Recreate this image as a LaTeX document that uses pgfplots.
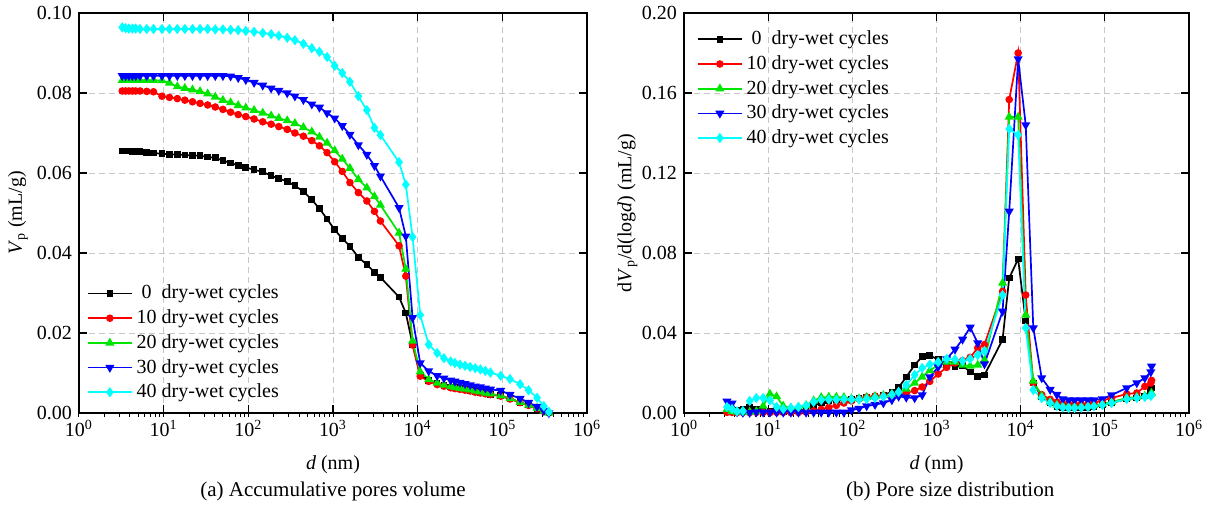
\documentclass[border=0pt]{standalone}
\usepackage{fontspec}
\setmainfont{Liberation Serif}
\usepackage{pgfplots}
\pgfplotsset{compat=1.18}
\usepackage{pgfplotstable}

\definecolor{cR}{RGB}{255,0,0}
\definecolor{cG}{RGB}{0,230,0}
\definecolor{cB}{RGB}{0,0,255}
\definecolor{cC}{RGB}{0,255,255}

% cumulative pore volume (mL/g)
\pgfplotstableread{
d K R G B C
3.24 0.0655 0.0805 0.0832 0.0843 0.0964
3.55 0.0655 0.0805 0.0832 0.0843 0.0962
3.89 0.0655 0.0805 0.0832 0.0843 0.0961
4.27 0.0654 0.0805 0.0832 0.0843 0.0961
4.68 0.0654 0.0805 0.0832 0.0843 0.0961
5.25 0.0653 0.0805 0.0832 0.0843 0.0960
6.31 0.0651 0.0804 0.0832 0.0843 0.0960
7.59 0.0650 0.0803 0.0832 0.0843 0.0960
9.55 0.0648 0.0792 0.0831 0.0843 0.0960
11.7 0.0647 0.0789 0.0825 0.0843 0.0960
14.5 0.0646 0.0786 0.0816 0.0843 0.0960
17.8 0.0645 0.0782 0.0812 0.0843 0.0960
21.9 0.0644 0.0778 0.0808 0.0843 0.0960
26.9 0.0643 0.0774 0.0804 0.0843 0.0960
33.1 0.0640 0.0770 0.0798 0.0843 0.0960
40.7 0.0638 0.0765 0.0790 0.0843 0.0959
50.1 0.0631 0.0759 0.0782 0.0843 0.0959
61.7 0.0625 0.0752 0.0776 0.0842 0.0958
75.9 0.0619 0.0746 0.0769 0.0838 0.0957
93.3 0.0614 0.0741 0.0763 0.0833 0.0955
117 0.0608 0.0735 0.0757 0.0826 0.0953
148 0.0603 0.0728 0.0750 0.0819 0.0950
186 0.0593 0.0722 0.0743 0.0812 0.0947
229 0.0586 0.0716 0.0737 0.0806 0.0943
288 0.0579 0.0709 0.0731 0.0800 0.0938
355 0.0568 0.0700 0.0724 0.0792 0.0932
447 0.0554 0.0692 0.0714 0.0783 0.0923
562 0.0533 0.0681 0.0703 0.0772 0.0912
692 0.0511 0.0668 0.0690 0.0764 0.0903
851 0.0485 0.0651 0.0675 0.0750 0.0890
1047 0.0458 0.0628 0.0656 0.0737 0.0868
1288 0.0436 0.0604 0.0635 0.0718 0.0850
1585 0.0417 0.0576 0.0612 0.0696 0.0828
1995 0.0389 0.0551 0.0584 0.0670 0.0792
2512 0.0371 0.0530 0.0563 0.0646 0.0757
3090 0.0352 0.0504 0.0541 0.0618 0.0713
3631 0.0339 0.0480 0.0520 0.0592 0.0695
6026 0.0290 0.0418 0.0450 0.0513 0.0627
7244 0.0250 0.0342 0.0360 0.0442 0.0571
8710 0.0171 0.0170 0.0180 0.0238 0.0440
10715 0.0095 0.0092 0.0103 0.0125 0.0245
13490 0.0082 0.0079 0.0084 0.0105 0.0171
16982 0.0074 0.0071 0.0075 0.0093 0.0150
20417 0.0069 0.0067 0.0070 0.0087 0.0137
24547 0.0065 0.0063 0.0066 0.0082 0.0129
27542 0.0063 0.0061 0.0064 0.0079 0.0125
31623 0.0061 0.0059 0.0062 0.0076 0.0121
36308 0.0059 0.0057 0.0060 0.0073 0.0118
41687 0.0057 0.0055 0.0058 0.0070 0.0115
47863 0.0054 0.0052 0.0055 0.0067 0.0112
54954 0.0052 0.0050 0.0053 0.0065 0.0109
63096 0.0050 0.0048 0.0050 0.0062 0.0105
72444 0.0047 0.0046 0.0048 0.0059 0.0101
95499 0.0043 0.0042 0.0043 0.0056 0.0093
123027 0.0036 0.0035 0.0036 0.0046 0.0085
162181 0.0027 0.0026 0.0027 0.0036 0.0072
204174 0.0020 0.0019 0.0020 0.0026 0.0057
257040 0.0012 0.0011 0.0012 0.0016 0.0038
309030 0.0005 0.0004 0.0005 0.0006 0.0017
354813 0.0000 0.0000 0.0000 0.0000 0.0003
}\cumtable

% pore size distribution dV/d(log d) (mL/g)
\pgfplotstableread{
d K R G B C
3.24 0.0013 0.0003 0.0017 0.0058 0.0030
3.72 0.0010 0.0003 0.0008 0.0048 0.0020
4.27 0.0012 0.0002 0.0005 0.0005 0.0008
5.01 0.0020 0.0003 0.0005 0.0002 0.0010
6.03 0.0030 0.0002 0.0005 0.0002 0.0060
7.24 0.0020 0.0003 0.0008 0.0005 0.0075
8.71 0.0012 0.0003 0.0035 0.0003 0.0075
10.5 0.0010 0.0002 0.0095 0.0003 0.0063
12.6 0.0012 0.0003 0.0082 0.0003 0.0030
15.1 0.0008 0.0003 0.0035 0.0003 0.0020
18.6 0.0010 0.0002 0.0025 0.0003 0.0025
22.9 0.0012 0.0003 0.0030 0.0003 0.0030
28.2 0.0020 0.0005 0.0038 0.0003 0.0037
34.7 0.0037 0.0010 0.0062 0.0003 0.0055
42.7 0.0050 0.0018 0.0078 0.0003 0.0065
52.5 0.0060 0.0028 0.0080 0.0003 0.0067
64.6 0.0065 0.0038 0.0080 0.0003 0.0067
79.4 0.0063 0.0050 0.0078 0.0003 0.0068
97.7 0.0068 0.0060 0.0072 0.0015 0.0068
120 0.0075 0.0070 0.0072 0.0022 0.0067
148 0.0080 0.0080 0.0078 0.0035 0.0070
186 0.0083 0.0085 0.0083 0.0042 0.0075
234 0.0090 0.0088 0.0088 0.0050 0.0082
295 0.0105 0.0090 0.0095 0.0065 0.0092
355 0.0128 0.0095 0.0105 0.0083 0.0105
437 0.0180 0.0100 0.0120 0.0078 0.0140
550 0.0240 0.0112 0.0150 0.0075 0.0190
676 0.0282 0.0130 0.0180 0.0090 0.0225
832 0.0287 0.0158 0.0212 0.0180 0.0242
1047 0.0268 0.0195 0.0240 0.0230 0.0255
1318 0.0245 0.0228 0.0255 0.0270 0.0270
1660 0.0233 0.0250 0.0255 0.0318 0.0268
2042 0.0237 0.0262 0.0240 0.0368 0.0260
2512 0.0205 0.0278 0.0235 0.0428 0.0270
3090 0.0183 0.0325 0.0240 0.0350 0.0290
3715 0.0190 0.0342 0.0265 0.0245 0.0310
6095 0.0367 0.0608 0.0650 0.0508 0.0590
7311 0.0675 0.1567 0.1480 0.1008 0.1420
9333 0.0770 0.1800 0.1480 0.1770 0.1390
11482 0.0460 0.0590 0.0490 0.1440 0.0425
14125 0.0150 0.0150 0.0160 0.0425 0.0115
17783 0.0080 0.0092 0.0085 0.0175 0.0075
22387 0.0050 0.0068 0.0055 0.0117 0.0050
26915 0.0030 0.0055 0.0040 0.0092 0.0035
31623 0.0028 0.0047 0.0035 0.0070 0.0028
37154 0.0027 0.0045 0.0033 0.0065 0.0025
43652 0.0027 0.0045 0.0033 0.0065 0.0025
52481 0.0027 0.0045 0.0033 0.0065 0.0027
63096 0.0028 0.0045 0.0035 0.0065 0.0030
74131 0.0030 0.0050 0.0037 0.0065 0.0033
93325 0.0040 0.0063 0.0045 0.0070 0.0040
120226 0.0050 0.0075 0.0055 0.0090 0.0050
181970 0.0070 0.0095 0.0075 0.0125 0.0070
239883 0.0075 0.0100 0.0080 0.0150 0.0075
298538 0.0085 0.0133 0.0085 0.0175 0.0080
351560 0.0115 0.0150 0.0095 0.0205 0.0085
358922 0.0125 0.0163 0.0100 0.0233 0.0090
}\psdtable

\pgfplotsset{
  poreframe/.style={
    scale only axis, height=200pt,
    xmin=1, xmax=1e6, ymin=0,
    xtick={1,10,100,1000,10000,100000,1000000},
    xticklabels={10\textsuperscript{0},10\textsuperscript{1},10\textsuperscript{2},10\textsuperscript{3},10\textsuperscript{4},10\textsuperscript{5},10\textsuperscript{6}},
    tick align=inside, major tick length=3.8pt, minor tick length=-2pt,
    xtick pos=left, ytick pos=both,
    axis line style={line width=0.7pt},
    major tick style={black, line width=0.6pt}, minor tick style={black, line width=0.5pt},
    grid=major, major grid style={densely dashed, black!22, line width=0.4pt},
    scaled y ticks=false,
    yticklabel style={/pgf/number format/fixed, /pgf/number format/fixed zerofill,
      /pgf/number format/precision=2, /pgf/number format/assume math mode=true},
    tick label style={font=\fontsize{10}{12}\selectfont},
    label style={font=\fontsize{10}{12}\selectfont},
    xlabel={\textit{d} (nm)},
    xlabel style={at={(axis description cs:0.5,-0.13)}, anchor=center},
    clip=false,
    legend cell align=left,
    legend style={draw=none, fill=none, inner sep=0pt, row sep=0pt,
      nodes={inner sep=1.95pt}, font=\fontsize{10}{12}\selectfont},
    every axis plot/.append style={line width=0.85pt},
  },
  topticks/.style={
    scale only axis, height=200pt,
    xmin=0, xmax=6, ymin=0, ymax=1,
    axis line style={draw=none}, ytick=\empty,
    xtick={0,1,2,3,4,5,6}, xticklabels={},
    xtick pos=right, tick align=inside, major tick length=3.8pt,
    major tick style={black, line width=0.6pt},
  },
  sK/.style={black, mark=square*, mark size=1.25pt},
  sR/.style={cR, mark=*, mark size=1.45pt},
  sG/.style={cG, mark=triangle*, mark size=1.8pt},
  sB/.style={cB, mark=triangle*, mark size=1.8pt, mark options={rotate=180}},
  sC/.style={cC, mark=diamond*, mark size=1.9pt},
}
\pgfplotsset{legend image code/.code={\draw[mark repeat=2,mark phase=2,#1] plot coordinates {(0pt,0pt) (11pt,0pt) (22pt,0pt)};}}

\begin{document}
\begin{tikzpicture}
\path[use as bounding box] (-39.5pt,-55pt) rectangle (569pt,206.5pt);

% (a) accumulative pore volume
\begin{axis}[xmode=log, poreframe, width=254pt, at={(0pt,0pt)}, ymax=0.1,
  ytick={0,0.02,0.04,0.06,0.08,0.1},
  ylabel={\textit{V}\textsubscript{p} (mL/g)},
  ylabel style={at={(axis description cs:-0.12,0.5)}, anchor=center},
  legend style={at={(axis description cs:0.015,0.02)}, anchor=south west}]
\addplot[sK] table[x=d,y=K] {\cumtable};
\addplot[sR] table[x=d,y=R] {\cumtable};
\addplot[sG] table[x=d,y=G] {\cumtable};
\addplot[sB] table[x=d,y=B] {\cumtable};
\addplot[sC] table[x=d,y=C] {\cumtable};
\legend{\makebox[1em]{0} dry-wet cycles,10 dry-wet cycles,20 dry-wet cycles,30 dry-wet cycles,40 dry-wet cycles}
\node[font=\fontsize{10.5}{12}\selectfont] at (axis description cs:0.5,-0.195) {(a) Accumulative pores volume};
\end{axis}
\begin{axis}[topticks, width=254pt, at={(0pt,0pt)}]
\end{axis}

% (b) pore size distribution
\begin{axis}[xmode=log, poreframe, width=252.5pt, at={(302.5pt,0pt)}, ymax=0.2,
  ytick={0,0.04,0.08,0.12,0.16,0.2},
  ylabel={d\textit{V}\textsubscript{p}/d(log\textit{d}) (mL/g)},
  ylabel style={at={(axis description cs:-0.112,0.5)}, anchor=center},
  legend style={at={(axis description cs:0.025,0.966)}, anchor=north west}]
\addplot[sK] table[x=d,y=K] {\psdtable};
\addplot[sR] table[x=d,y=R] {\psdtable};
\addplot[sG] table[x=d,y=G] {\psdtable};
\addplot[sB] table[x=d,y=B] {\psdtable};
\addplot[sC] table[x=d,y=C] {\psdtable};
\legend{\makebox[1em]{0} dry-wet cycles,10 dry-wet cycles,20 dry-wet cycles,30 dry-wet cycles,40 dry-wet cycles}
\node[font=\fontsize{10.5}{12}\selectfont] at (axis description cs:0.527,-0.195) {(b) Pore size distribution};
\end{axis}
\begin{axis}[topticks, width=252.5pt, at={(302.5pt,0pt)}]
\end{axis}
\end{tikzpicture}
\end{document}
